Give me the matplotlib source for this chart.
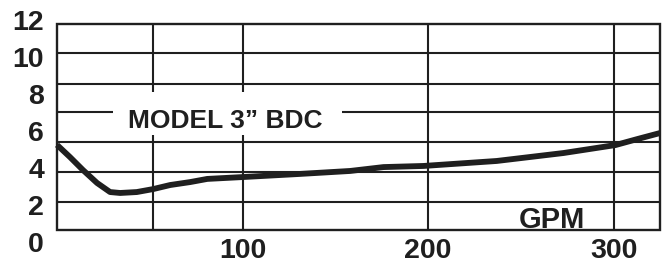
import matplotlib
matplotlib.use("Agg")
import matplotlib.pyplot as plt
from matplotlib.patches import Rectangle

# ---- data ----
gpm = [0, 7, 14, 21.6, 28.6, 34, 43, 51.8, 61, 71.8, 81, 100, 131, 158, 176,
       197.5, 237, 273, 301, 313, 325]
head = [5.25, 4.59, 3.89, 3.19, 2.70, 2.65, 2.70, 2.86, 3.08, 3.24, 3.41, 3.51,
        3.68, 3.84, 4.05, 4.11, 4.38, 4.81, 5.24, 5.57, 5.89]
x_ticks = [100, 200, 300]
x_tick_labels = ["100", "200", "300"]
y_ticks = [0, 2, 4, 6, 8, 10, 12]
y_tick_labels = ["0", "2", "4", "6", "8", "10", "12"]
title_text = "MODEL 3\u201d BDC"
unit_text = "GPM"

# ---- layout / style (scanned grid does not line up with the labels) ----
frame_x = (0, 325)
frame_y = (0.65, 11.78)
grid_x = [51.8, 100, 200, 300]
grid_y = [2.16, 3.78, 5.41, 7.03, 8.54, 10.22]
ink = "#1f1f1f"
plt.rcParams["font.family"] = ["Liberation Sans", "DejaVu Sans"]

fig = plt.figure(figsize=(6.7, 2.65), dpi=100)
ax = fig.add_axes([57 / 670, 23 / 265, 603 / 670, 222 / 265])
ax.set_xlim(0, 325)
ax.set_ylim(0, 12)
for s in ax.spines.values():
    s.set_visible(False)

ax.set_xticks(x_ticks)
ax.set_xticklabels(x_tick_labels)
ax.set_yticks(y_ticks)
ax.set_yticklabels(y_tick_labels)
ax.tick_params(length=0, labelsize=20.5, labelcolor=ink)
ax.tick_params(axis="y", pad=9.4)
ax.tick_params(axis="x", pad=-3)
for lab in ax.get_xticklabels() + ax.get_yticklabels():
    lab.set_fontweight("bold")

# grid + frame
ax.hlines(grid_y, frame_x[0], frame_x[1], colors=ink, lw=1.5, zorder=2)
ax.vlines(grid_x, frame_y[0], frame_y[1], colors=ink, lw=1.5, zorder=2)
ax.add_patch(Rectangle((frame_x[0], frame_y[0]), frame_x[1] - frame_x[0],
                       frame_y[1] - frame_y[0], fill=False, ec=ink, lw=1.7,
                       clip_on=False, zorder=2))

# label with white knock-out behind it
ax.add_patch(Rectangle((30.2, 5.78), 123.6, 2.33, fc="white", ec="none", zorder=3))
ax.text(90.7, 6.16, title_text, ha="center", va="baseline", fontsize=19,
        fontweight="bold", color=ink, zorder=4)
ax.text(266.6, 0.75, unit_text, ha="center", va="baseline", fontsize=21,
        fontweight="bold", color=ink, zorder=4)

# curve
ax.plot(gpm, head, color=ink, lw=4.2, solid_capstyle="butt",
        solid_joinstyle="round", clip_on=False, zorder=5)

fig.savefig("out.png", dpi=100)
